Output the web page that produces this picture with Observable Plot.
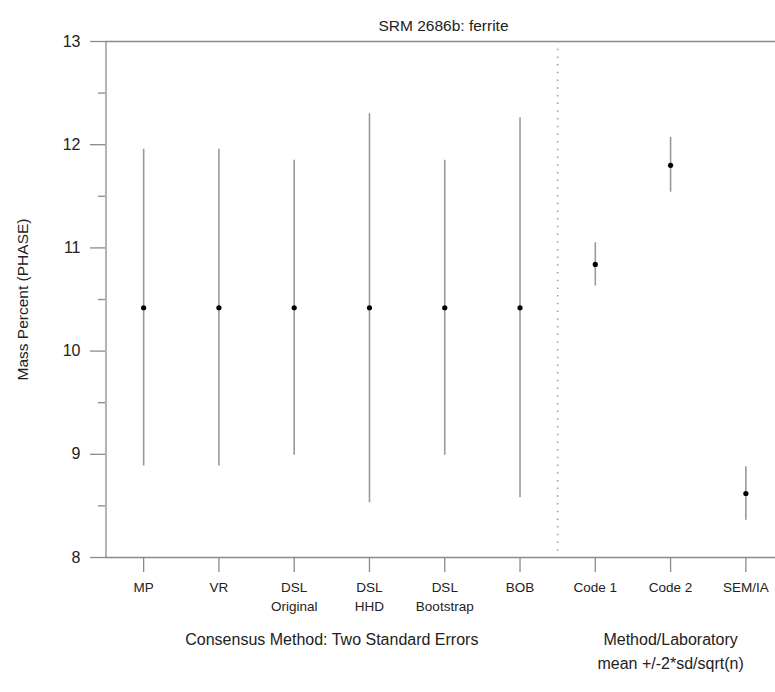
<!DOCTYPE html>
<html>
<head>
<meta charset="utf-8">
<script src="https://cdn.jsdelivr.net/npm/d3@7"></script>
<script src="https://cdn.jsdelivr.net/npm/@observablehq/plot@0.6"></script>
<style>
  html, body { margin: 0; padding: 0; background: #fff; }
  #chart svg { display: block; }
</style>
</head>
<body>
<div id="chart"></div>
<script>
// ---- data ----
const title = "SRM 2686b: ferrite";
const yLabel = "Mass Percent (PHASE)";
const categories = ["MP", "VR", "DSL\nOriginal", "DSL\nHHD", "DSL\nBootstrap", "BOB", "Code 1", "Code 2", "SEM/IA"];
const groups = ["consensus", "consensus", "consensus", "consensus", "consensus", "consensus", "lab", "lab", "lab"];
const means = [10.42, 10.42, 10.42, 10.42, 10.42, 10.42, 10.84, 11.80, 8.62];
const lows  = [8.887, 8.887, 8.99, 8.53, 8.99, 8.58, 10.63, 11.54, 8.36];
const highs = [11.955, 11.955, 11.85, 12.30, 11.85, 12.26, 11.05, 12.07, 8.88];
const groupCaptions = [
  {group: "consensus", text: "Consensus Method: Two Standard Errors"},
  {group: "lab", text: "Method/Laboratory\nmean +/-2*sd/sqrt(n)"}
];
const yTicks = [8, 9, 10, 11, 12, 13];
const yMinorTicks = [8.5, 9.5, 10.5, 11.5, 12.5];

// ---- derived tables ----
const rows = categories.map((c, i) => ({i, label: c, group: groups[i], mean: means[i], lo: lows[i], hi: highs[i]}));
const idx = categories.map((_, i) => i);
const xDomain = [-0.5, categories.length - 0.5];
const nConsensus = groups.filter(g => g === "consensus").length;
const separator = [nConsensus - 0.5];
const captionRows = groupCaptions.map(g => ({
  text: g.text,
  x: d3.mean(rows.filter(r => r.group === g.group), r => r.i)
}));

const grey = "#999";
const axisGrey = "#8a8a8a";

const chart = Plot.plot({
  width: 775,
  height: 692,
  marginLeft: 105,
  marginRight: 0,
  marginTop: 41,
  marginBottom: 135,
  style: {fontFamily: "'Liberation Sans', Arial, Helvetica, sans-serif", color: "#222", background: "#fff"},
  x: {type: "linear", domain: xDomain, range: [105.5, 783]},
  y: {domain: [8, 13]},
  marks: [
    // frame lines
    Plot.ruleY([8, 13], {stroke: axisGrey, strokeWidth: 1.3}),
    Plot.ruleX([xDomain[0]], {stroke: axisGrey, strokeWidth: 1.3}),
    // y axis
    Plot.axisY(yTicks, {tickSize: 15, tickPadding: 10, fontSize: 16, tickFormat: d3.format("d"), stroke: axisGrey, strokeWidth: 1.3, label: null}),
    Plot.axisY(yMinorTicks, {tickSize: 7, tickFormat: () => "", stroke: axisGrey, strokeWidth: 1.3, label: null}),
    // x axis
    Plot.axisX(idx, {tickSize: 15, tickPadding: 7, fontSize: 13.5, lineHeight: 1.35, tickFormat: i => categories[i], stroke: axisGrey, strokeWidth: 1.3, label: null}),
    // separator
    Plot.ruleX(separator, {stroke: grey, strokeWidth: 1.5, strokeDasharray: "1.5,6.2"}),
    // error bars
    Plot.ruleX(rows, {x: "i", y1: "lo", y2: "hi", stroke: grey, strokeWidth: 1.6}),
    Plot.dot(rows, {x: "i", y: "mean", r: 2.6, fill: "black", stroke: "none"}),
    // texts
    Plot.text([title], {frameAnchor: "top", dx: 3, dy: -22, fontSize: 15.5}),
    Plot.text([yLabel], {frameAnchor: "left", textAnchor: "middle", rotate: -90, dx: -82, fontSize: 15.5}),
    Plot.text(captionRows, {x: "x", text: "text", frameAnchor: "bottom", lineAnchor: "top", dy: 70, fontSize: 16, lineHeight: 1.5})
  ]
});
document.getElementById("chart").appendChild(chart);
</script>
</body>
</html>
